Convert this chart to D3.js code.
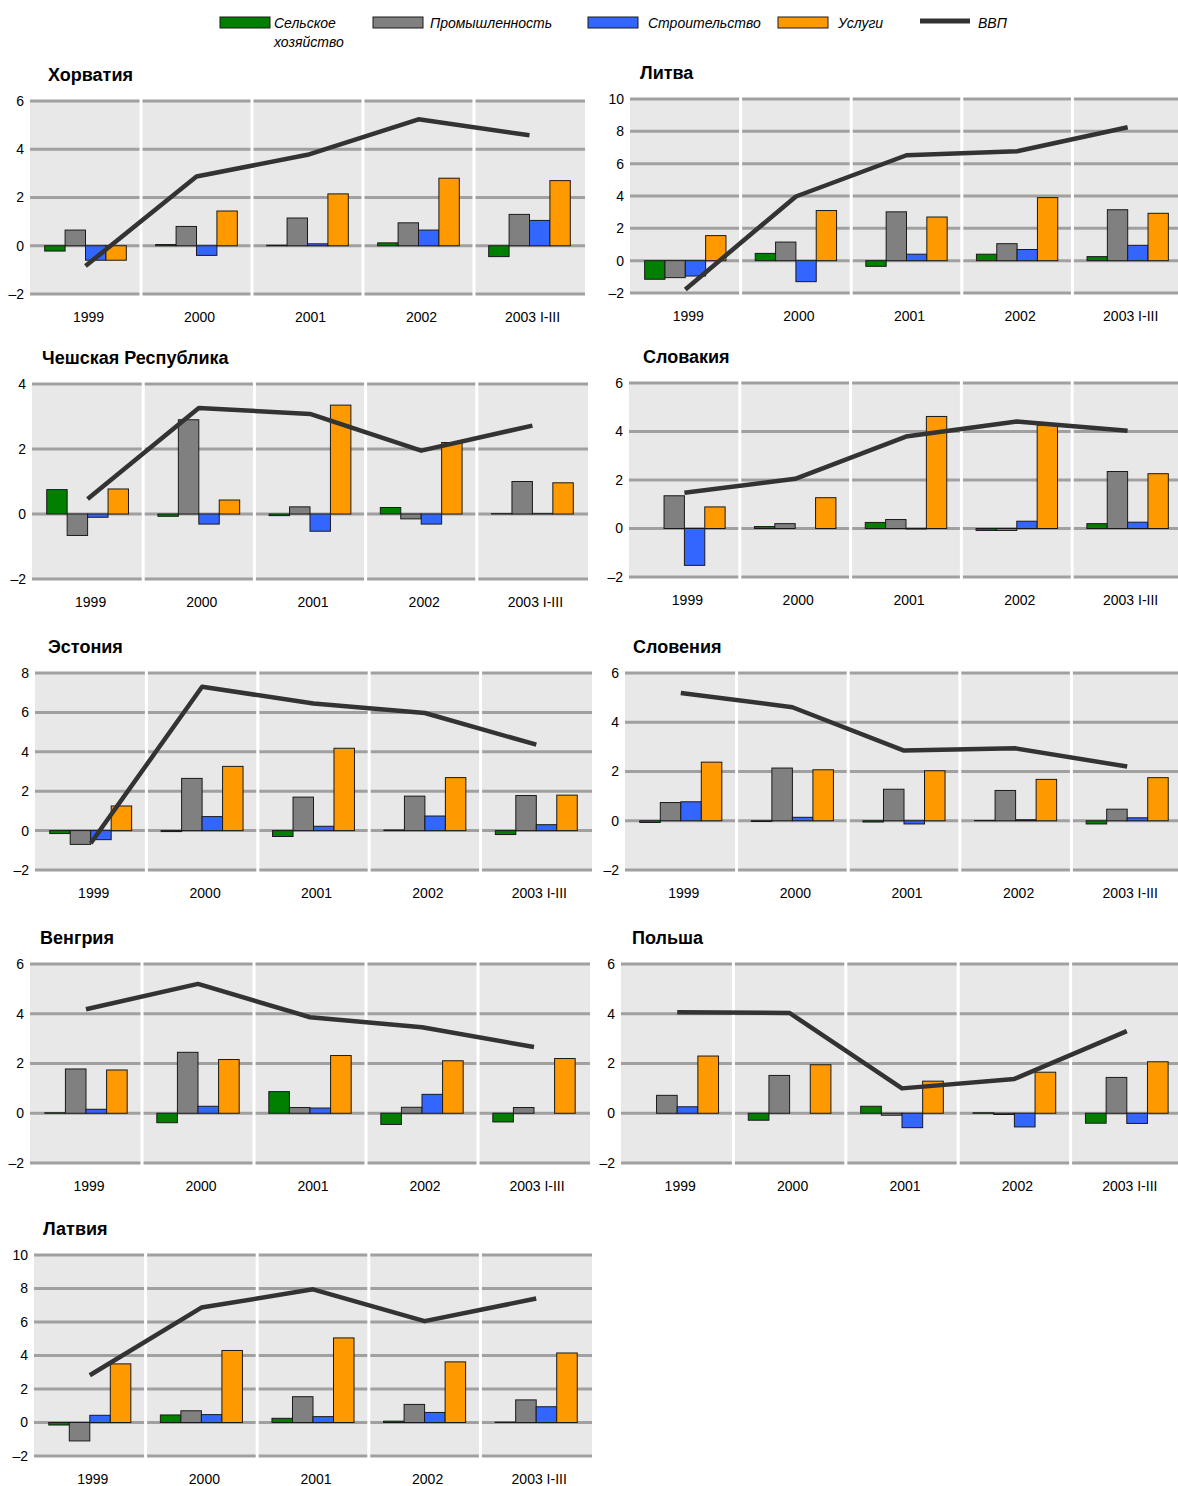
<!DOCTYPE html>
<html>
<head>
<meta charset="utf-8">
<script src="https://cdn.jsdelivr.net/npm/d3@7"></script>
<style>
  html, body { margin: 0; padding: 0; background: #fff; }
  svg { display: block; }
  text { font-family: "Liberation Sans Narrow", "Arial Narrow", "Liberation Sans", Arial, sans-serif; }
</style>
</head>
<body>
<svg id="chart" width="1178" height="1486"></svg>
<script>
// Growth contributions by sector (percentage points) and GDP growth (%)
const years = ["1999", "2000", "2001", "2002", "2003 I-III"];
const seriesKeys = ["agriculture", "industry", "construction", "services"];
const seriesLabels = ["Сельское хозяйство", "Промышленность", "Строительство", "Услуги"];
const gdpLabel = "ВВП";

const countries = ["Хорватия", "Литва", "Чешская Республика", "Словакия", "Эстония",
                   "Словения", "Венгрия", "Польша", "Латвия"];
const yMaxByCountry = [6, 10, 4, 6, 8, 6, 6, 6, 10];
const yMin = -2;

// one row per country, in the order of `countries`
const agriculture = [
  [-0.22, 0.05, 0.02, 0.12, -0.45],
  [-1.15, 0.45, -0.35, 0.4, 0.25],
  [0.75, -0.07, -0.05, 0.2, 0.01],
  [0, 0.08, 0.25, -0.08, 0.2],
  [-0.15, -0.05, -0.3, 0.03, -0.2],
  [-0.07, -0.03, -0.05, 0.01, -0.13],
  [0.02, -0.38, 0.87, -0.45, -0.35],
  [0, -0.28, 0.28, 0.02, -0.4],
  [-0.15, 0.45, 0.25, 0.08, 0.02]
];
const industry = [
  [0.65, 0.8, 1.15, 0.95, 1.3],
  [-1.05, 1.15, 3.02, 1.05, 3.15],
  [-0.66, 2.9, 0.22, -0.15, 1.0],
  [1.35, 0.2, 0.37, -0.08, 2.35],
  [-0.7, 2.65, 1.7, 1.75, 1.78],
  [0.74, 2.14, 1.28, 1.23, 0.47],
  [1.78, 2.45, 0.23, 0.24, 0.23],
  [0.72, 1.52, -0.08, -0.05, 1.44],
  [-1.1, 0.7, 1.54, 1.08, 1.35]
];
const construction = [
  [-0.6, -0.4, 0.08, 0.65, 1.05],
  [-0.95, -1.3, 0.4, 0.69, 0.95],
  [-0.1, -0.31, -0.53, -0.31, 0.01],
  [-1.52, 0, -0.02, 0.3, 0.26],
  [-0.46, 0.71, 0.22, 0.74, 0.3],
  [0.77, 0.14, -0.13, 0.04, 0.12],
  [0.16, 0.28, 0.21, 0.76, 0],
  [0.26, 0, -0.58, -0.55, -0.41],
  [0.43, 0.47, 0.35, 0.6, 0.94]
];
const services = [
  [-0.6, 1.44, 2.15, 2.8, 2.7],
  [1.55, 3.1, 2.7, 3.9, 2.93],
  [0.77, 0.43, 3.35, 2.2, 0.96],
  [0.89, 1.27, 4.62, 4.26, 2.26],
  [1.25, 3.26, 4.18, 2.69, 1.8],
  [2.38, 2.07, 2.03, 1.68, 1.75],
  [1.74, 2.16, 2.32, 2.11, 2.2],
  [2.3, 1.95, 1.29, 1.65, 2.07],
  [3.5, 4.3, 5.05, 3.62, 4.15]
];
const gdp = [
  [-0.84, 2.87, 3.77, 5.24, 4.58],
  [-1.78, 3.97, 6.52, 6.77, 8.25],
  [0.46, 3.26, 3.08, 1.95, 2.72],
  [1.47, 2.05, 3.79, 4.41, 4.03],
  [-0.64, 7.3, 6.45, 5.97, 4.36],
  [5.19, 4.61, 2.85, 2.94, 2.2],
  [4.18, 5.2, 3.86, 3.46, 2.66],
  [4.06, 4.03, 1.0, 1.38, 3.3],
  [2.82, 6.86, 7.95, 6.05, 7.4]
];

// ---- appearance ----
const colors = {
  agriculture: "#007f00",
  industry: "#808080",
  construction: "#3366ff",
  services: "#ff9900"
};
const gdpColor = "#333333";
const plotBg = "#e8e8e8";
const gridColor = "#a0a0a0";
const fontStack = "'Liberation Sans Narrow', 'Arial Narrow', 'Liberation Sans', Arial, sans-serif";

// panel frames: plot area edges and title position
const panels = [
  { x0: 30,  x1: 585,  top: 101,  bottom: 294,  titleX: 48 },
  { x0: 630, x1: 1183, top: 99,   bottom: 293,  titleX: 640 },
  { x0: 32,  x1: 588,  top: 384,  bottom: 579,  titleX: 42 },
  { x0: 629, x1: 1183, top: 383,  bottom: 577,  titleX: 643 },
  { x0: 35,  x1: 592,  top: 673,  bottom: 870,  titleX: 48 },
  { x0: 625, x1: 1183, top: 673,  bottom: 870,  titleX: 633 },
  { x0: 30,  x1: 590,  top: 964,  bottom: 1163, titleX: 40 },
  { x0: 621, x1: 1183, top: 964,  bottom: 1163, titleX: 632 },
  { x0: 34,  x1: 592,  top: 1255, bottom: 1456, titleX: 43 }
];

const svg = d3.select("#chart");
const fmt = d => d < 0 ? "\u2013" + Math.abs(d) : String(d);

countries.forEach((name, i) => {
  const p = panels[i];
  const yMax = yMaxByCountry[i];
  const g = svg.append("g");

  const x = d3.scaleBand().domain(years).range([p.x0, p.x1]).padding(0);
  const xs = d3.scaleBand().domain(seriesKeys).range([0, x.bandwidth()])
    .paddingInner(0).paddingOuter(0.72);
  const y = d3.scaleLinear().domain([yMin, yMax]).range([p.bottom, p.top]);
  const tickVals = d3.range(yMin, yMax + 1, 2);

  // plot background
  g.append("rect")
    .attr("x", p.x0).attr("y", p.top)
    .attr("width", p.x1 - p.x0).attr("height", p.bottom - p.top)
    .attr("fill", plotBg);

  // horizontal grid
  g.append("g").selectAll("line").data(tickVals).join("line")
    .attr("x1", p.x0).attr("x2", p.x1)
    .attr("y1", d => y(d)).attr("y2", d => y(d))
    .attr("stroke", gridColor).attr("stroke-width", 3);

  // white separators between years
  g.append("g").selectAll("line").data(years.slice(1)).join("line")
    .attr("x1", d => x(d)).attr("x2", d => x(d))
    .attr("y1", p.top - 2).attr("y2", p.bottom + 2)
    .attr("stroke", "#ffffff").attr("stroke-width", 3);

  // bars
  const rows = years.map((yr, j) => ({
    year: yr,
    values: [
      { key: "agriculture", v: agriculture[i][j] },
      { key: "industry", v: industry[i][j] },
      { key: "construction", v: construction[i][j] },
      { key: "services", v: services[i][j] }
    ]
  }));
  g.append("g").selectAll("g").data(rows).join("g")
    .attr("transform", d => `translate(${x(d.year)},0)`)
    .selectAll("rect").data(d => d.values.filter(e => e.v !== 0)).join("rect")
      .attr("x", d => xs(d.key))
      .attr("width", xs.bandwidth())
      .attr("y", d => y(Math.max(0, d.v)))
      .attr("height", d => Math.abs(y(d.v) - y(0)))
      .attr("fill", d => colors[d.key])
      .attr("stroke", "#1a1a1a").attr("stroke-width", 1);

  // GDP line
  const line = d3.line()
    .x((d, j) => x(years[j]) + x.bandwidth() / 2)
    .y(d => y(d));
  g.append("path").datum(gdp[i])
    .attr("d", line)
    .attr("fill", "none")
    .attr("stroke", gdpColor).attr("stroke-width", 4.5)
    .attr("stroke-linejoin", "round");

  // axes
  const yAxis = g.append("g")
    .attr("transform", `translate(${p.x0},0)`)
    .call(d3.axisLeft(y).tickValues(tickVals).tickSize(0).tickPadding(6).tickFormat(fmt));
  yAxis.select(".domain").remove();
  yAxis.selectAll("text").attr("font-size", 14).attr("fill", "#000")
    .style("font-family", fontStack);

  const xAxis = g.append("g")
    .attr("transform", `translate(0,${p.bottom})`)
    .call(d3.axisBottom(x).tickSize(0).tickPadding(18));
  xAxis.select(".domain").remove();
  xAxis.selectAll("text").attr("font-size", 14).attr("fill", "#000").attr("dx", 3)
    .style("font-family", fontStack);

  // title
  g.append("text")
    .attr("x", p.titleX).attr("y", p.top - 20)
    .attr("font-size", 18).attr("font-weight", "bold")
    .text(name);
});

// legend
const legend = svg.append("g");
const legendItems = [
  { key: "agriculture", x: 220, tx: 274 },
  { key: "industry", x: 373, tx: 430 },
  { key: "construction", x: 588, tx: 648 },
  { key: "services", x: 778, tx: 838 }
];
legendItems.forEach((it, k) => {
  legend.append("rect")
    .attr("x", it.x).attr("y", 17).attr("width", 50).attr("height", 11)
    .attr("fill", colors[it.key]).attr("stroke", "#1a1a1a").attr("stroke-width", 1);
  const words = seriesLabels[k].split(" ");
  const t = legend.append("text")
    .attr("x", it.tx).attr("y", 28)
    .attr("font-size", 14).attr("font-style", "italic");
  words.forEach((w, n) => {
    t.append("tspan").attr("x", it.tx).attr("dy", n === 0 ? 0 : 19).text(w);
  });
});
legend.append("line")
  .attr("x1", 920).attr("x2", 970).attr("y1", 21).attr("y2", 21)
  .attr("stroke", gdpColor).attr("stroke-width", 5);
legend.append("text")
  .attr("x", 978).attr("y", 28)
  .attr("font-size", 14).attr("font-style", "italic")
  .text(gdpLabel);
</script>
</body>
</html>
